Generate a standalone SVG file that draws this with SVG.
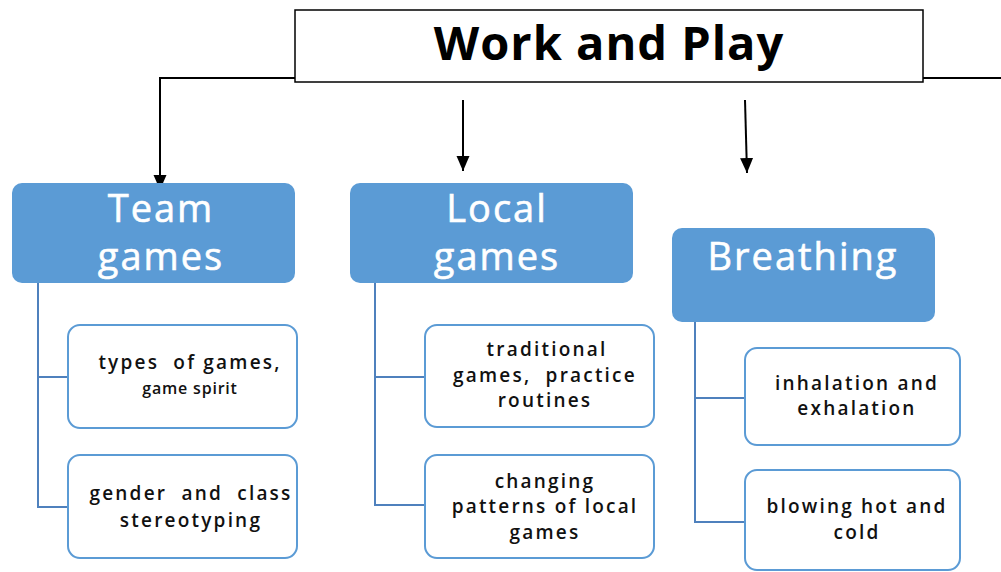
<svg xmlns="http://www.w3.org/2000/svg" width="1001" height="572" viewBox="0 0 1001 572">
<defs>
<marker id="ah" markerWidth="16" markerHeight="14" refX="15" refY="6.5" orient="auto" markerUnits="userSpaceOnUse">
<path d="M0,0 L15,6.5 L0,13 Z" fill="#000"/>
</marker>
<style>
.hdr{fill:#5b9bd5;}
.hdrt{font-family:"Open Sans","Liberation Sans",sans-serif;font-size:38px;fill:#fff;text-anchor:middle;letter-spacing:2px;stroke:#fff;stroke-width:0.6;}
.sub{fill:#fff;stroke:#5b9bd5;stroke-width:2;}
.subt{font-family:"Open Sans","Liberation Sans",sans-serif;font-size:19px;font-weight:600;fill:#111;text-anchor:middle;letter-spacing:2.2px;white-space:pre;}
.blk{stroke:#000;stroke-width:2;fill:none;}
.bl{stroke:#4f81bd;stroke-width:2;fill:none;}
</style>
</defs>
<rect width="1001" height="572" fill="#fff"/>
<g id="connectors">
<path class="blk" d="M295,78 H160 V190" marker-end="url(#ah)"/>
<path class="blk" d="M923,78 H1001"/>
<path class="blk" d="M463,100 V171" marker-end="url(#ah)"/>
<path class="blk" d="M745,100 L747,173" marker-end="url(#ah)"/>
<path class="bl" d="M38,283 V507 H68 M38,377 H68"/>
<path class="bl" d="M375,283 V505 H425 M375,377 H425"/>
<path class="bl" d="M695,322 V522 H745 M695,398 H745"/>
</g>
<g id="title">
<rect x="295" y="10" width="628" height="72" fill="#fff" stroke="#000" stroke-width="1.5"/>
<text x="609" y="60" font-family="Open Sans, Liberation Sans, sans-serif" font-size="47" font-weight="700" letter-spacing="1" text-anchor="middle" fill="#000">Work and Play</text>
</g>
<g id="team-games">
<rect class="hdr" x="12" y="183" width="283" height="100" rx="10"/>
<text class="hdrt" x="161" y="222">Team</text>
<text class="hdrt" x="161" y="270">games</text>
</g>
<g id="local-games">
<rect class="hdr" x="350" y="183" width="283" height="100" rx="10"/>
<text class="hdrt" x="497" y="222">Local</text>
<text class="hdrt" x="497" y="270">games</text>
</g>
<g id="breathing">
<rect class="hdr" x="672" y="228" width="263" height="94" rx="10"/>
<text class="hdrt" x="803" y="270">Breathing</text>
</g>
<g id="types-of-games">
<rect class="sub" x="68" y="325" width="229" height="103" rx="12"/>
<text class="subt" x="190" y="369">types  of games,</text>
<text class="subt" x="190" y="394" style="font-size:16px;letter-spacing:0.8px">game spirit</text>
</g>
<g id="gender-class">
<rect class="sub" x="68" y="455" width="229" height="103" rx="12"/>
<text class="subt" x="191" y="500">gender  and  class</text>
<text class="subt" x="191" y="527">stereotyping</text>
</g>
<g id="traditional">
<rect class="sub" x="425" y="325" width="229" height="102" rx="12"/>
<text class="subt" x="547" y="356">traditional</text>
<text class="subt" x="545" y="382">games,  practice</text>
<text class="subt" x="545" y="407">routines</text>
</g>
<g id="changing">
<rect class="sub" x="425" y="455" width="229" height="103" rx="12"/>
<text class="subt" x="545" y="488">changing</text>
<text class="subt" x="545" y="513">patterns of local</text>
<text class="subt" x="545" y="539">games</text>
</g>
<g id="inhalation">
<rect class="sub" x="745" y="348" width="215" height="97" rx="12"/>
<text class="subt" x="857" y="390">inhalation and</text>
<text class="subt" x="857" y="415">exhalation</text>
</g>
<g id="blowing">
<rect class="sub" x="745" y="470" width="215" height="100" rx="12"/>
<text class="subt" x="857" y="513">blowing hot and</text>
<text class="subt" x="857" y="539">cold</text>
</g>
</svg>
